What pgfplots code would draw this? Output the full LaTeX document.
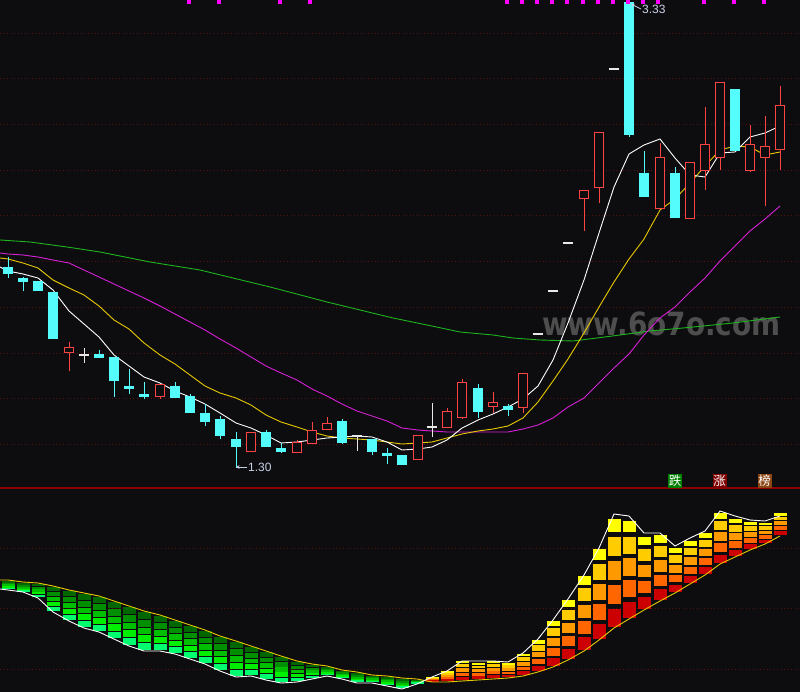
\documentclass[border=0pt]{standalone}
\usepackage{pgfplots}
\pgfplotsset{compat=1.18}
\usepackage{pgfplotstable}
\usepackage{fontspec}
\setmainfont{Liberation Sans}
\newfontfamily\cjk{Noto Sans CJK SC}
\newfontfamily\wm{DejaVu Sans}
\usetikzlibrary{arrows.meta}
\definecolor{bgc}{RGB}{13,13,16}
\definecolor{cyanc}{RGB}{84,252,252}
\definecolor{redc}{RGB}{255,68,68}
\definecolor{whc}{RGB}{232,232,232}
\definecolor{ma10}{RGB}{232,200,0}
\definecolor{ma20}{RGB}{214,32,214}
\definecolor{ma60}{RGB}{30,180,30}
\definecolor{gridc}{RGB}{84,18,18}
\definecolor{sepc}{RGB}{140,0,0}
\definecolor{magm}{RGB}{255,0,255}
\definecolor{lblc}{RGB}{200,210,230}
\definecolor{wmc}{RGB}{78,78,78}
\definecolor{g1}{RGB}{0,102,0}
\definecolor{g2}{RGB}{0,143,0}
\definecolor{g3}{RGB}{0,191,0}
\definecolor{g4}{RGB}{0,238,0}
\definecolor{g5}{RGB}{0,255,110}
\definecolor{r1}{RGB}{255,255,0}
\definecolor{r2}{RGB}{255,204,0}
\definecolor{r3}{RGB}{255,153,0}
\definecolor{r4}{RGB}{255,102,0}
\definecolor{r5}{RGB}{204,0,0}

% candles in chart pixel units (y grows downward)
\pgfplotstableread{
x top bot hi lo
8 268 274 257 278
23 279 282 277 291
38 282 291 282 291
53 293 339 293 339
99 355 358 350 358
114 357 380 357 397
129 387 389 369 394
144 394 396 382 399
175 387 398 382 398
190 396 412 394 412
205 414 421 404 426
220 419 435 416 439
236 439 446 432 468
266 432 446 430 446
281 448 451 443 453
342 421 442 419 444
372 439 451 439 455
387 453 455 448 464
402 455 464 455 464
478 389 412 384 418
508 407 410 404 416
629 3 135 3 137
644 174 197 151 197
675 174 218 167 218
735 90 151 90 151
}\cyantab
\pgfplotstableread{
x top bot hi lo
69 348 353 342 371
160 384 396 384 399
251 432 451 432 452
297 442 452 440 453
312 430 443 422 443
327 423 429 417 430
418 435 459 435 460
447 412 427 408 427
462 382 417 379 419
493 403 407 392 413
523 373 407 373 413
584 191 199 191 231
599 133 188 133 203
660 158 209 143 209
690 163 219 163 219
705 145 171 107 190
720 83 158 83 170
750 145 171 125 172
765 147 158 116 206
780 106 150 86 170
}\redtab
\pgfplotstableread{
x top bot hi lo
84 355 355 348 363
357 436 436 435 451
432 427 427 403 437
538 334 334 334 334
553 291 291 291 291
568 243 243 243 243
614 69 69 69 69
}\whitetab
\pgfplotstableread{
x T B
8 581 589
23 583 592
38 584 597
53 587 611
69 591 620
84 594 627
99 597 631
114 602 638
129 607 645
144 612 650
160 616 650
175 621 653
190 626 658
205 631 663
220 637 670
236 642 676
251 647 675
266 652 679
281 657 682
297 662 681
312 665 678
327 667 675
342 671 678
357 673 682
372 676 682
387 677 685
402 679 688
417 680 683
}\greentab
\pgfplotstableread{
x T B
432 677 681
447 671 681
462 661 680
478 663 679
493 661 678
508 663 677
523 654 675
538 640 671
553 621 666
568 600 659
584 576 650
599 549 639
614 519 627
629 521 618
644 537 609
660 535 600
675 548 592
690 541 583
705 533 574
720 513 563
735 519 556
750 522 549
765 523 543
780 513 535
}\hottab

\pgfplotsset{
  vbar/.style 2 args={only marks, mark=none, mark size=0pt,
    mark options={draw=none, fill=none}, color=#2,
    error bars/.cd, y dir=both, y explicit, error mark=none,
    error bar style={line width=#1, draw=#2}},
}

\newcommand{\seg}[4]{%
  \addplot[vbar={13pt}{#1}]
    table[x=x, y expr={\thisrow{T}+(#2+#3)/2*(\thisrow{B}-\thisrow{T})},
      y error expr={(#3-#2)/2*(\thisrow{B}-\thisrow{T})}] {#4};
}

\begin{document}
\begin{tikzpicture}
\useasboundingbox (0,0) rectangle (800pt,692pt);
\begin{axis}[
  at={(0,0)}, anchor=south west,
  scale only axis, width=800pt, height=692pt,
  xmin=0, xmax=800, ymin=0, ymax=692, y dir=reverse,
  axis line style={draw=none},
  tick style={draw=none}, major tick length=0pt,
  xtick=\empty,
  ytick={33,78,124,170,215,261,307,353,398,444,548,608,669},
  yticklabels={},
  ymajorgrids,
  major grid style={draw=gridc, dash pattern=on 1pt off 2.5pt, line width=0.9pt},
  extra y ticks={488}, extra y tick labels={},
  extra y tick style={ymajorgrids, major grid style={draw=sepc, solid, line width=1.2pt}},
  axis background/.style={fill=bgc},
]
% watermark
\node[anchor=base west, inner sep=0, text=wmc] at (axis cs:542,335)
  {\scalebox{0.87}[1.0]{\wm\bfseries\fontsize{32}{32}\selectfont www.6o7o.com}};

% moving averages
\addplot[ma60, line width=0.9pt] coordinates {(0,240) (30,242) (67,247) (100,252) (150,262) (200,270) (233,278) (270,287) (293,293) (327,302) (360,310) (393,318) (427,325) (460,332) (493,335) (513,338) (540,340) (573,341) (597,338) (620,335) (650,331) (683,328) (733,323) (780,317)};
\addplot[ma20, line width=0.9pt] coordinates {(0,253) (8,254) (23,255) (38,257) (53,260) (69,263) (84,270) (99,277) (114,284) (129,291) (144,298) (160,306) (175,314) (190,322) (205,330) (220,339) (236,348) (251,357) (266,366) (281,373) (297,380) (312,389) (327,396) (342,404) (357,411) (372,416) (387,421) (402,428) (418,430) (432,431) (447,432) (462,432) (478,432) (493,432) (508,432) (523,429) (538,425) (553,418) (568,407) (584,398) (599,383) (614,368) (629,354) (644,335) (660,318) (675,307) (690,292) (705,278) (720,261) (735,246) (750,231) (765,219) (780,206)};
\addplot[ma10, line width=0.9pt] coordinates {(0,258) (8,259) (23,263) (38,268) (53,280) (69,288) (84,295) (99,306) (114,320) (129,329) (144,343) (160,355) (175,364) (190,375) (205,386) (220,393) (236,398) (251,405) (266,415) (281,422) (297,427) (312,432) (327,436) (342,438) (357,439) (372,440) (387,442) (402,444) (418,443) (432,442) (447,438) (462,434) (478,431) (493,429) (508,426) (523,418) (538,402) (553,381) (568,359) (584,333) (599,307) (614,282) (629,259) (644,239) (660,210) (675,199) (690,183) (705,166) (720,150) (735,146) (750,147) (765,155) (780,152)};
\addplot[white, line width=0.9pt] coordinates {(0,267) (8,271) (23,274) (38,278) (53,290) (69,311) (84,324) (99,337) (114,355) (129,366) (144,377) (160,383) (175,391) (190,397) (205,404) (220,413) (236,423) (251,428) (266,435) (281,443) (297,442) (312,440) (327,438) (342,437) (357,436) (372,437) (387,442) (402,450) (418,449) (432,447) (447,440) (462,428) (478,420) (493,414) (508,407) (523,399) (538,386) (553,360) (568,323) (584,280) (599,233) (614,187) (629,154) (644,145) (660,139) (675,158) (690,175) (705,177) (720,153) (735,152) (750,137) (765,133) (780,126)};

% wicks
\addplot[vbar={1pt}{cyanc}]
  table[x=x, y expr={(\thisrow{hi}+\thisrow{lo})/2}, y error expr={(\thisrow{lo}-\thisrow{hi})/2}] {\cyantab};
\addplot[vbar={1pt}{redc}]
  table[x=x, y expr={(\thisrow{hi}+\thisrow{lo})/2}, y error expr={(\thisrow{lo}-\thisrow{hi})/2}] {\redtab};
\addplot[vbar={1pt}{whc}]
  table[x=x, y expr={(\thisrow{hi}+\thisrow{lo})/2}, y error expr={(\thisrow{lo}-\thisrow{hi})/2}] {\whitetab};
% bodies
\addplot[vbar={10.5pt}{cyanc}]
  table[x=x, y expr={(\thisrow{top}+\thisrow{bot})/2}, y error expr={(\thisrow{bot}-\thisrow{top})/2+0.5}] {\cyantab};
\addplot[vbar={10.5pt}{redc}]
  table[x=x, y expr={(\thisrow{top}+\thisrow{bot})/2}, y error expr={(\thisrow{bot}-\thisrow{top})/2+0.5}] {\redtab};
\addplot[vbar={8.5pt}{bgc}]
  table[x=x, y expr={(\thisrow{top}+\thisrow{bot})/2}, y error expr={max((\thisrow{bot}-\thisrow{top})/2-0.5,0)}] {\redtab};
\addplot[vbar={10.5pt}{whc}]
  table[x=x, y expr={(\thisrow{top}+\thisrow{bot})/2}, y error expr={0.6}] {\whitetab};

% top markers
\addplot[only marks, mark=square*, mark size=1.5pt, color=magm] coordinates {(189,1.5) (219,1.5) (280,1.5) (310,1.5) (507,1.5) (522,1.5) (537,1.5) (552,1.5) (567,1.5) (583,1.5) (598,1.5) (613,1.5) (628,1.5) (643,1.5) (658,1.5) (704,1.5) (734,1.5) (764,1.5)};

% high / low labels
\draw[lblc, line width=0.8pt, -{Stealth[length=3.5pt,width=3.5pt]}] (axis cs:641,9) -- (axis cs:631,4);
\node[anchor=west, inner sep=0, text=lblc, font=\fontsize{12}{12}\selectfont] at (axis cs:642,9.5) {3.33};
\draw[lblc, line width=0.8pt, -{Stealth[length=3.5pt,width=3.5pt]}] (axis cs:247,467) -- (axis cs:236,467);
\node[anchor=west, inner sep=0, text=lblc, font=\fontsize{12}{12}\selectfont] at (axis cs:248,467) {1.30};

% lower panel
\seg{g1}{0}{0.176}{\greentab}
\seg{g2}{0.206}{0.382}{\greentab}
\seg{g3}{0.412}{0.588}{\greentab}
\seg{g4}{0.618}{0.794}{\greentab}
\seg{g5}{0.824}{1.0}{\greentab}
\seg{r1}{0}{0.118}{\hottab}
\seg{r2}{0.164}{0.340}{\hottab}
\seg{r3}{0.386}{0.562}{\hottab}
\seg{r4}{0.608}{0.784}{\hottab}
\seg{r5}{0.830}{1.0}{\hottab}

\addplot[ma10, line width=0.9pt] coordinates {(0,580) (8,580) (23,582) (38,583) (53,586) (69,590) (84,593) (99,596) (114,601) (129,606) (144,611) (160,615) (175,620) (190,625) (205,630) (220,636) (236,641) (251,646) (266,651) (281,656) (297,661) (312,664) (327,666) (342,670) (357,672) (372,675) (387,676) (402,678) (417,679) (432,682) (447,682) (462,681) (478,680) (493,679) (508,678) (523,676) (538,672) (553,667) (568,660) (584,651) (599,640) (614,628) (629,619) (644,610) (660,601) (675,593) (690,584) (705,575) (720,564) (735,557) (750,550) (765,544) (780,536)};
\addplot[white, line width=0.9pt] coordinates {(0,589) (8,590) (23,592) (38,598) (53,612) (69,621) (84,628) (99,632) (114,639) (129,646) (144,651) (160,651) (175,654) (190,659) (205,664) (220,671) (236,677) (251,676) (266,680) (281,683) (297,682) (312,679) (327,676) (342,679) (357,683) (372,683) (387,686) (402,689) (417,684) (432,677) (447,671) (462,661) (478,661) (493,661) (508,662) (523,653) (538,639) (553,620) (568,599) (584,575) (599,548) (614,514) (629,516) (644,533) (660,533) (675,546) (690,538) (705,531) (720,511) (735,516) (750,520) (765,521) (780,516)};

% labels at the top of the lower panel
\node[fill={rgb,255:red,0;green,128;blue,0}, text=white, minimum width=14pt, minimum height=14pt, inner sep=0, font=\cjk\fontsize{12.5}{12.5}\selectfont] at (axis cs:675,480.5) {跌};
\node[fill={rgb,255:red,128;green,0;blue,0}, text=white, minimum width=14pt, minimum height=14pt, inner sep=0, font=\cjk\fontsize{12.5}{12.5}\selectfont] at (axis cs:719.5,480.5) {涨};
\node[fill={rgb,255:red,139;green,69;blue,19}, text=white, minimum width=14pt, minimum height=14pt, inner sep=0, font=\cjk\fontsize{12.5}{12.5}\selectfont] at (axis cs:764.5,480.5) {榜};
\end{axis}
\end{tikzpicture}
\end{document}
